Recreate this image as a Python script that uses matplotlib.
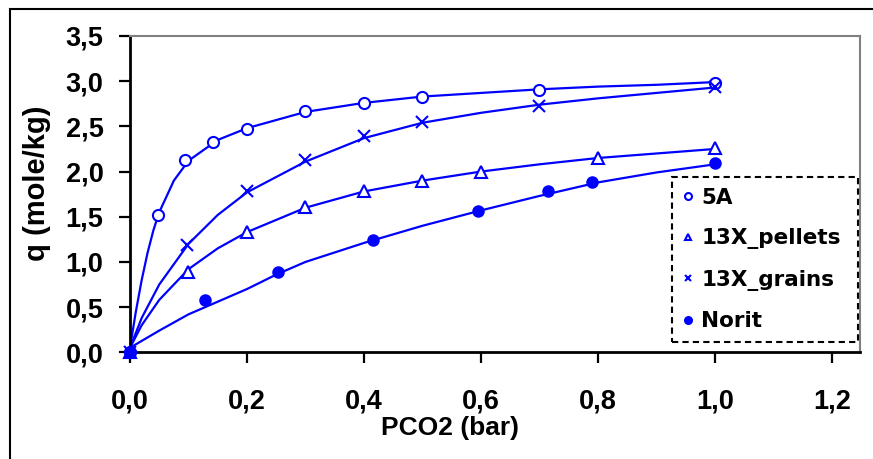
"""CO2 adsorption isotherms: measured points and fitted curves for four sorbents."""

import matplotlib.pyplot as plt
from matplotlib.lines import Line2D
from matplotlib.patches import Rectangle

# measured points
x_5a = [0.0, 0.048, 0.094, 0.142, 0.2, 0.3, 0.4, 0.5, 0.7, 1.0]
y_5a = [0.0, 1.52, 2.13, 2.33, 2.47, 2.67, 2.76, 2.82, 2.90, 2.98]

x_pellets = [0.0, 0.099, 0.2, 0.3, 0.4, 0.5, 0.6, 0.8, 1.0]
y_pellets = [0.0, 0.89, 1.33, 1.61, 1.79, 1.89, 1.99, 2.15, 2.26]

x_grains = [0.0, 0.098, 0.2, 0.3, 0.4, 0.5, 0.7, 1.0]
y_grains = [0.0, 1.19, 1.78, 2.13, 2.39, 2.55, 2.73, 2.94]

x_norit = [0.0, 0.128, 0.253, 0.415, 0.595, 0.715, 0.79, 1.0]
y_norit = [0.0, 0.58, 0.89, 1.24, 1.56, 1.78, 1.88, 2.09]

# fitted curves
cx_5a = [0.0, 0.01, 0.02, 0.03, 0.04, 0.05, 0.075, 0.1, 0.15, 0.2, 0.3, 0.4, 0.5, 0.6, 0.7, 0.8, 0.9, 1.0]
cy_5a = [0.05, 0.45, 0.8, 1.1, 1.35, 1.55, 1.9, 2.12, 2.35, 2.48, 2.66, 2.76, 2.83, 2.87, 2.91, 2.94, 2.96, 2.99]

cx_grains = [0.0, 0.02, 0.05, 0.1, 0.15, 0.2, 0.3, 0.4, 0.5, 0.6, 0.7, 0.8, 0.9, 1.0]
cy_grains = [0.05, 0.38, 0.75, 1.2, 1.52, 1.77, 2.11, 2.37, 2.54, 2.65, 2.74, 2.81, 2.87, 2.93]

cx_pellets = [0.0, 0.02, 0.05, 0.1, 0.15, 0.2, 0.3, 0.4, 0.5, 0.6, 0.7, 0.8, 0.9, 1.0]
cy_pellets = [0.05, 0.3, 0.58, 0.92, 1.15, 1.33, 1.6, 1.78, 1.9, 2.0, 2.08, 2.15, 2.2, 2.25]

cx_norit = [0.0, 0.05, 0.1, 0.15, 0.2, 0.25, 0.3, 0.4, 0.5, 0.6, 0.7, 0.8, 0.9, 1.0]
cy_norit = [0.05, 0.24, 0.42, 0.56, 0.7, 0.86, 1.0, 1.21, 1.4, 1.57, 1.73, 1.88, 1.99, 2.08]

x_ticks = [0.0, 0.2, 0.4, 0.6, 0.8, 1.0, 1.2]
x_ticklabels = ["0,0", "0,2", "0,4", "0,6", "0,8", "1,0", "1,2"]
y_ticks = [0.0, 0.5, 1.0, 1.5, 2.0, 2.5, 3.0, 3.5]
y_ticklabels = ["0,0", "0,5", "1,0", "1,5", "2,0", "2,5", "3,0", "3,5"]

BLUE = "#0000FF"
W, H = 873, 459

fig = plt.figure(figsize=(W / 100, H / 100), dpi=100)
ax = fig.add_axes([130 / W, 1 - 352.3 / H, 730 / W, (352.3 - 36) / H])

# outer chart border (only the left and top edges show)
fig.patches.append(
    Rectangle((10 / W, -0.1), 1.0, 1 - 9 / H + 0.1, transform=fig.transFigure,
              fill=False, edgecolor="black", linewidth=1.5)
)

for cx, cy in [(cx_5a, cy_5a), (cx_grains, cy_grains),
               (cx_pellets, cy_pellets), (cx_norit, cy_norit)]:
    ax.plot(cx, cy, color=BLUE, linewidth=1.6, zorder=2)

mk = dict(linestyle="none", color=BLUE, markeredgewidth=1.5, zorder=3, clip_on=False)
ax.plot(x_5a, y_5a, marker="o", markersize=8, markerfacecolor="white", **mk)
ax.plot(x_pellets, y_pellets, marker="^", markersize=8, markerfacecolor="white", **mk)
ax.plot(x_grains, y_grains, marker="x", markersize=8, **mk)
ax.plot(x_norit, y_norit, marker="o", markersize=7.5, markerfacecolor=BLUE, **mk)

ax.set_xlim(0, 1.248)
ax.set_ylim(0, 3.49)
ax.set_xticks(x_ticks)
ax.set_xticklabels(x_ticklabels)
ax.set_yticks(y_ticks)
ax.set_yticklabels(y_ticklabels)

tick_font = dict(family="Liberation Sans", weight="bold", size=19.5)
for lab in ax.get_xticklabels() + ax.get_yticklabels():
    lab.set_fontproperties(tick_font)
ax.tick_params(axis="x", direction="out", length=8, width=1.6, pad=18)
ax.tick_params(axis="y", direction="out", length=8, width=1.6, pad=11)

for side in ("left", "bottom"):
    ax.spines[side].set_linewidth(2)
    ax.spines[side].set_color("black")
for side in ("top", "right"):
    ax.spines[side].set_linewidth(1.5)
    ax.spines[side].set_color("#808080")

fig.text(450 / W, 1 - 428 / H, "PCO2 (bar)", ha="center", va="center",
         family="Liberation Sans", weight="bold", size=19)
fig.text(37 / W, 1 - 183 / H, "q (mole/kg)", ha="center", va="center", rotation=90,
         family="Liberation Sans", weight="bold", size=21)

handles = [
    Line2D([], [], marker="o", markersize=5, markerfacecolor="white", **mk),
    Line2D([], [], marker="^", markersize=5, markerfacecolor="white", **mk),
    Line2D([], [], marker="x", markersize=5, **mk),
    Line2D([], [], marker="o", markersize=5, markerfacecolor=BLUE, **mk),
]
labels = ["5A", "13X_pellets", "13X_grains", "Norit"]
leg = fig.legend(
    handles, labels,
    loc="upper left",
    bbox_to_anchor=(672 / W, 1 - 345 / H, 186 / W, 168 / H),
    mode="expand",
    prop=dict(family="DejaVu Sans", weight="bold", size=15.5),
    handlelength=0.45, handletextpad=0.4, borderpad=0.5, labelspacing=0.95,
    borderaxespad=0, fancybox=False, frameon=True, framealpha=1,
)
frame = leg.get_frame()
frame.set_edgecolor("black")
frame.set_linestyle((0, (3, 2)))
frame.set_linewidth(1.5)

fig.savefig("out.png", dpi=100)
